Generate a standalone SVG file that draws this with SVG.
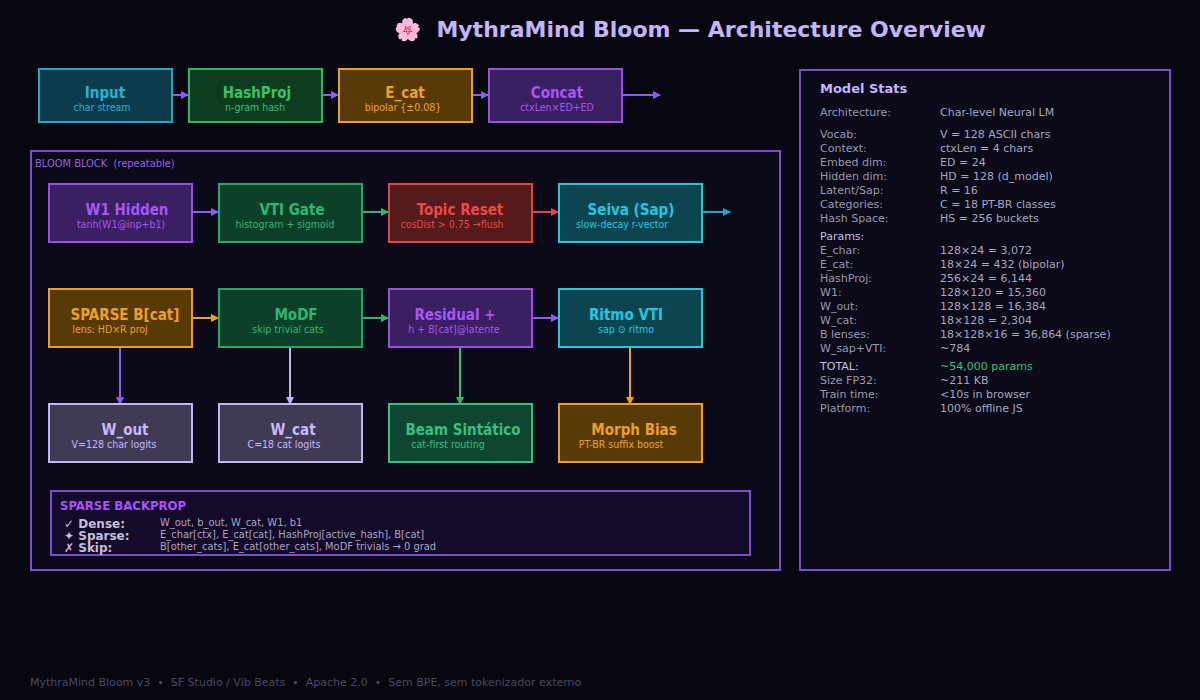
<svg xmlns="http://www.w3.org/2000/svg" width="1200" height="700" viewBox="0 0 1200 700">
<defs>
<style>
.t{font-family:"DejaVu Sans Condensed","DejaVu Sans",sans-serif;font-weight:bold;font-size:15px;text-anchor:middle}
.s{font-family:"DejaVu Sans Condensed","DejaVu Sans",sans-serif;font-size:10.5px;text-anchor:middle}
.st{font-family:"DejaVu Sans",sans-serif;font-size:11px;fill:#9a98b0}
.sv{font-family:"DejaVu Sans",sans-serif;font-size:11px;fill:#a8a6c0}
.ln{stroke-width:2;fill:none}
.cy rect{fill:#0c3c4c;stroke:#20a8c4}.cy text{fill:#22b4d4}
.gr rect{fill:#0c3c20;stroke:#30b85c}.gr text{fill:#3cc064}
.or rect{fill:#573a06;stroke:#f0a020}.or text{fill:#f0a020}
.pu rect{fill:#3a2060;stroke:#9a50e0}.pu text{fill:#a855f7}
.tg rect{fill:#0c4028;stroke:#22a868}.tg text{fill:#2cb874}
.rd rect{fill:#551a1a;stroke:#e04444}.rd text{fill:#ec4848}
.tl rect{fill:#0c4450;stroke:#22c8e0}.tl text{fill:#22c8e0}
.lv rect{fill:#403a55;stroke:#c4b4f4}.lv text{fill:#c8baf8}
.bm rect{fill:#0e4630;stroke:#34c080}.bm text{fill:#34c080}
rect{stroke-width:2}
</style>
<marker id="ap" markerWidth="8" markerHeight="8" refX="7" refY="4" orient="auto" markerUnits="userSpaceOnUse"><path d="M0,0L8,4L0,8z" fill="#8b5cf6"/></marker>
<marker id="ag" markerWidth="8" markerHeight="8" refX="7" refY="4" orient="auto" markerUnits="userSpaceOnUse"><path d="M0,0L8,4L0,8z" fill="#2cb874"/></marker>
<marker id="ar" markerWidth="8" markerHeight="8" refX="7" refY="4" orient="auto" markerUnits="userSpaceOnUse"><path d="M0,0L8,4L0,8z" fill="#e04444"/></marker>
<marker id="ac" markerWidth="8" markerHeight="8" refX="7" refY="4" orient="auto" markerUnits="userSpaceOnUse"><path d="M0,0L8,4L0,8z" fill="#20a8c4"/></marker>
<marker id="ao" markerWidth="8" markerHeight="8" refX="7" refY="4" orient="auto" markerUnits="userSpaceOnUse"><path d="M0,0L8,4L0,8z" fill="#f0a020"/></marker>
<marker id="al" markerWidth="8" markerHeight="8" refX="7" refY="4" orient="auto" markerUnits="userSpaceOnUse"><path d="M0,0L8,4L0,8z" fill="#c4b4f4"/></marker>
</defs>
<rect x="0" y="0" width="1200" height="700" fill="#07070f" stroke="none"/>
<text x="690" y="37" font-family="DejaVu Sans,sans-serif" font-weight="bold" font-size="22" fill="#c4b5fd" text-anchor="middle" xml:space="preserve">🌸  MythraMind Bloom — Architecture Overview</text>

<rect x="31" y="151" width="749" height="419" fill="#0a0a18" stroke="#7c4dcc" stroke-width="1"/>
<text x="35" y="167" font-family="DejaVu Sans Condensed,DejaVu Sans,sans-serif" font-size="11" fill="#9a60e0" xml:space="preserve">BLOOM BLOCK  (repeatable)</text>

<g id="connectors">
<line class="ln" x1="172" y1="95" x2="188" y2="95" stroke="#8b5cf6" marker-end="url(#ap)"/>
<line class="ln" x1="322" y1="95" x2="338" y2="95" stroke="#8b5cf6" marker-end="url(#ap)"/>
<line class="ln" x1="472" y1="95" x2="488" y2="95" stroke="#8b5cf6" marker-end="url(#ap)"/>
<line class="ln" x1="622" y1="95" x2="660" y2="95" stroke="#8b5cf6" marker-end="url(#ap)"/>
<line class="ln" x1="192" y1="212" x2="218" y2="212" stroke="#8b5cf6" marker-end="url(#ap)"/>
<line class="ln" x1="362" y1="212" x2="388" y2="212" stroke="#2cb874" marker-end="url(#ag)"/>
<line class="ln" x1="532" y1="212" x2="558" y2="212" stroke="#e04444" marker-end="url(#ar)"/>
<line class="ln" x1="702" y1="212" x2="730" y2="212" stroke="#20a8c4" marker-end="url(#ac)"/>
<line class="ln" x1="192" y1="318" x2="218" y2="318" stroke="#f0a020" marker-end="url(#ao)"/>
<line class="ln" x1="362" y1="318" x2="388" y2="318" stroke="#2cb874" marker-end="url(#ag)"/>
<line class="ln" x1="532" y1="318" x2="558" y2="318" stroke="#8b5cf6" marker-end="url(#ap)"/>
<line class="ln" x1="120" y1="347" x2="120" y2="404" stroke="#8b5cf6" marker-end="url(#ap)"/>
<line class="ln" x1="290" y1="347" x2="290" y2="404" stroke="#c4b4f4" marker-end="url(#al)"/>
<line class="ln" x1="460" y1="347" x2="460" y2="404" stroke="#34c080" marker-end="url(#ag)"/>
<line class="ln" x1="630" y1="347" x2="630" y2="404" stroke="#f0a020" marker-end="url(#ao)"/>
</g>

<g id="input" class="cy"><rect x="39" y="69" width="133" height="53"/><text class="t" x="105" y="98">Input</text><text class="s" x="102" y="111">char stream</text></g>
<g id="hashproj" class="gr"><rect x="189" y="69" width="133" height="53"/><text class="t" x="257" y="98">HashProj</text><text class="s" x="255" y="111">n-gram hash</text></g>
<g id="ecat" class="or"><rect x="339" y="69" width="133" height="53"/><text class="t" x="405" y="98">E_cat</text><text class="s" x="403" y="111">bipolar {±0.08}</text></g>
<g id="concat" class="pu"><rect x="489" y="69" width="133" height="53"/><text class="t" x="557" y="98">Concat</text><text class="s" x="557" y="111">ctxLen×ED+ED</text></g>

<g id="w1" class="pu"><rect x="49" y="184" width="143" height="58"/><text class="t" x="127" y="215">W1 Hidden</text><text class="s" x="121" y="228">tanh(W1@inp+b1)</text></g>
<g id="vti" class="tg"><rect x="219" y="184" width="143" height="58"/><text class="t" x="292" y="215">VTI Gate</text><text class="s" x="285" y="228">histogram + sigmoid</text></g>
<g id="topic" class="rd"><rect x="389" y="184" width="143" height="58"/><text class="t" x="460" y="215">Topic Reset</text><text class="s" x="452" y="228">cosDist &gt; 0.75 →flush</text></g>
<g id="seiva" class="tl"><rect x="559" y="184" width="143" height="58"/><text class="t" x="631" y="215">Seiva (Sap)</text><text class="s" x="622" y="228">slow-decay r-vector</text></g>

<g id="sparseb" class="or"><rect x="49" y="289" width="143" height="58"/><text class="t" x="125" y="320">SPARSE B[cat]</text><text class="s" x="110" y="333">lens: HD×R proj</text></g>
<g id="modf" class="tg"><rect x="219" y="289" width="143" height="58"/><text class="t" x="296" y="320">MoDF</text><text class="s" x="288" y="333">skip trivial cats</text></g>
<g id="residual" class="pu"><rect x="389" y="289" width="143" height="58"/><text class="t" x="455" y="320">Residual +</text><text class="s" x="454" y="333">h + B[cat]@latente</text></g>
<g id="ritmo" class="tl"><rect x="559" y="289" width="143" height="58"/><text class="t" x="626" y="320">Ritmo VTI</text><text class="s" x="626" y="333">sap ⊙ ritmo</text></g>

<g id="wout" class="lv"><rect x="49" y="404" width="143" height="58"/><text class="t" x="125" y="435">W_out</text><text class="s" x="114" y="448">V=128 char logits</text></g>
<g id="wcat" class="lv"><rect x="219" y="404" width="143" height="58"/><text class="t" x="293" y="435">W_cat</text><text class="s" x="284" y="448">C=18 cat logits</text></g>
<g id="beam" class="bm"><rect x="389" y="404" width="143" height="58"/><text class="t" x="463" y="435">Beam Sintático</text><text class="s" x="448" y="448">cat-first routing</text></g>
<g id="morph" class="or"><rect x="559" y="404" width="143" height="58"/><text class="t" x="634" y="435">Morph Bias</text><text class="s" x="621" y="448">PT-BR suffix boost</text></g>

<g id="backprop">
<rect x="51" y="491" width="699" height="64" fill="#140a2a" stroke="#7c4dcc" stroke-width="1"/>
<text x="60" y="510" font-family="DejaVu Sans Condensed,DejaVu Sans,sans-serif" font-weight="bold" font-size="13" fill="#a855f7">SPARSE BACKPROP</text>
<g font-family="DejaVu Sans,sans-serif" font-weight="bold" font-size="12" fill="#c4c0dc">
<text x="64" y="528">✓ Dense:</text><text x="64" y="540">✦ Sparse:</text><text x="64" y="552">✗ Skip:</text></g>
<g font-family="DejaVu Sans Condensed,DejaVu Sans,sans-serif" font-size="11" fill="#a8a6c0">
<text x="160" y="526">W_out, b_out, W_cat, W1, b1</text>
<text x="160" y="538">E_char[ctx], E_cat[cat], HashProj[active_hash], B[cat]</text>
<text x="160" y="550">B[other_cats], E_cat[other_cats], MoDF trivials → 0 grad</text></g>
</g>

<g id="stats">
<rect x="800" y="70" width="370" height="500" fill="#0a0a18" stroke="#7c4dcc" stroke-width="1"/>
<text x="820" y="93" font-family="DejaVu Sans,sans-serif" font-weight="bold" font-size="13" fill="#c4b5fd">Model Stats</text>
<text class="st" x="820" y="116">Architecture:</text><text class="sv" x="940" y="116">Char-level Neural LM</text>
<text class="st" x="820" y="138">Vocab:</text><text class="sv" x="940" y="138">V = 128 ASCII chars</text>
<text class="st" x="820" y="152">Context:</text><text class="sv" x="940" y="152">ctxLen = 4 chars</text>
<text class="st" x="820" y="166">Embed dim:</text><text class="sv" x="940" y="166">ED = 24</text>
<text class="st" x="820" y="180">Hidden dim:</text><text class="sv" x="940" y="180">HD = 128 (d_model)</text>
<text class="st" x="820" y="194">Latent/Sap:</text><text class="sv" x="940" y="194">R = 16</text>
<text class="st" x="820" y="208">Categories:</text><text class="sv" x="940" y="208">C = 18 PT-BR classes</text>
<text class="st" x="820" y="222">Hash Space:</text><text class="sv" x="940" y="222">HS = 256 buckets</text>
<text class="st" x="820" y="240" style="fill:#c4c0e4">Params:</text>
<text class="st" x="820" y="254">E_char:</text><text class="sv" x="940" y="254">128×24 = 3,072</text>
<text class="st" x="820" y="268">E_cat:</text><text class="sv" x="940" y="268">18×24 = 432 (bipolar)</text>
<text class="st" x="820" y="282">HashProj:</text><text class="sv" x="940" y="282">256×24 = 6,144</text>
<text class="st" x="820" y="296">W1:</text><text class="sv" x="940" y="296">128×120 = 15,360</text>
<text class="st" x="820" y="310">W_out:</text><text class="sv" x="940" y="310">128×128 = 16,384</text>
<text class="st" x="820" y="324">W_cat:</text><text class="sv" x="940" y="324">18×128 = 2,304</text>
<text class="st" x="820" y="338">B lenses:</text><text class="sv" x="940" y="338">18×128×16 = 36,864 (sparse)</text>
<text class="st" x="820" y="352">W_sap+VTI:</text><text class="sv" x="940" y="352">~784</text>
<text class="st" x="820" y="370" style="fill:#c4c0e4">TOTAL:</text><text class="sv" x="940" y="370" style="fill:#34c080">~54,000 params</text>
<text class="st" x="820" y="384">Size FP32:</text><text class="sv" x="940" y="384">~211 KB</text>
<text class="st" x="820" y="398">Train time:</text><text class="sv" x="940" y="398">&lt;10s in browser</text>
<text class="st" x="820" y="412">Platform:</text><text class="sv" x="940" y="412">100% offline JS</text>
</g>

<text x="30" y="686" font-family="DejaVu Sans,sans-serif" font-size="11" fill="#4a4866" xml:space="preserve">MythraMind Bloom v3  •  SF Studio / Vib Beats  •  Apache 2.0  •  Sem BPE, sem tokenizador externo</text>
</svg>
